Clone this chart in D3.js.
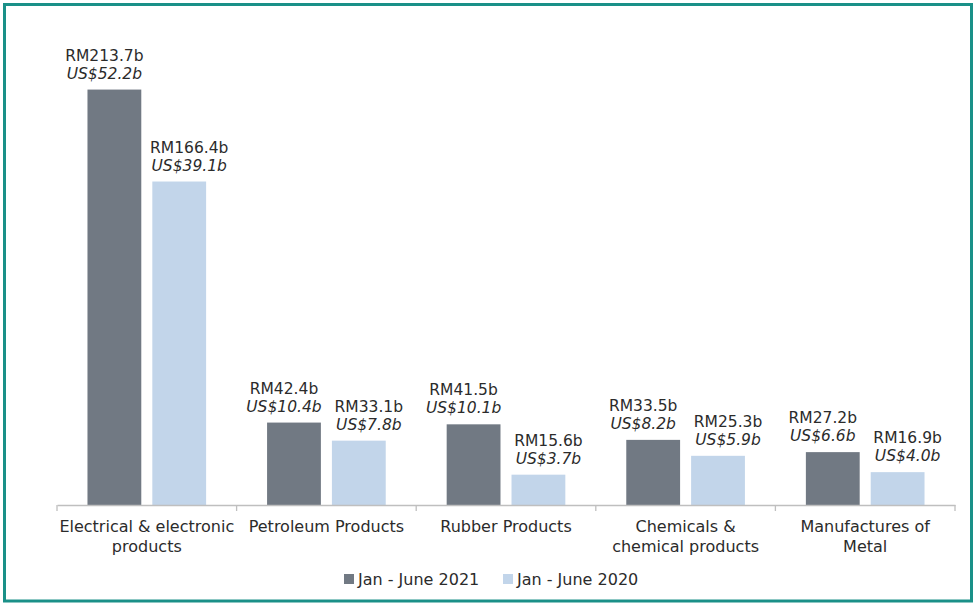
<!DOCTYPE html>
<html>
<head>
<meta charset="utf-8">
<script src="https://cdn.jsdelivr.net/npm/d3@7"></script>
<style>
  body { margin: 0; background: #fff; }
  text { font-family: "DejaVu Sans", sans-serif; fill: #2b2b2b; font-size: 16px; }
</style>
</head>
<body>
<script>
// categories and values (RM billions, with US$ equivalents)
var categories = [
  ["Electrical & electronic", "products"],
  ["Petroleum Products"],
  ["Rubber Products"],
  ["Chemicals &", "chemical products"],
  ["Manufactures of", "Metal"]
];
var series = ["Jan - June 2021", "Jan - June 2020"];
var rm2021 = [213.7, 42.4, 41.5, 33.5, 27.2];
var rm2020 = [166.4, 33.1, 15.6, 25.3, 16.9];
var us2021 = ["US$52.2b", "US$10.4b", "US$10.1b", "US$8.2b", "US$6.6b"];
var us2020 = ["US$39.1b", "US$7.8b", "US$3.7b", "US$5.9b", "US$4.0b"];
var colors = ["#717983", "#c2d5ea"];

var width = 978, height = 603;
var margin = {top: 19, right: 23, bottom: 98, left: 57};
var labelShift = [-10, 10]; // labels pushed apart, as in the original

var svg = d3.select("body").append("svg")
    .attr("width", width)
    .attr("height", height);

// teal frame
svg.append("rect")
    .attr("x", 4.5).attr("y", 4.5)
    .attr("width", 967).attr("height", 596.5)
    .attr("fill", "none")
    .attr("stroke", "#1a9088")
    .attr("stroke-width", 3);

var x0 = d3.scaleBand()
    .domain(d3.range(categories.length))
    .range([margin.left, width - margin.right])
    .paddingInner(0).paddingOuter(0);

var x1 = d3.scaleBand()
    .domain(series)
    .range([0, x0.bandwidth()])
    .paddingInner(0.17)
    .paddingOuter(0.47);

var y = d3.scaleLinear()
    .domain([0, 250])
    .range([height - margin.bottom, margin.top]);

var data = [];
for (let i = 0; i < categories.length; i++) {
    data.push({i: i, k: 0, s: series[0], v: rm2021[i], us: us2021[i], c: colors[0]});
    data.push({i: i, k: 1, s: series[1], v: rm2020[i], us: us2020[i], c: colors[1]});
}

svg.selectAll("rect.bar")
    .data(data)
    .enter()
    .append("rect")
    .attr("class", "bar")
    .attr("x", function (d) { return x0(d.i) + x1(d.s); })
    .attr("y", function (d) { return y(d.v); })
    .attr("width", x1.bandwidth())
    .attr("height", function (d) { return y(0) - y(d.v); })
    .attr("fill", function (d) { return d.c; });

// value labels
var labels = svg.selectAll("g.lab")
    .data(data)
    .enter()
    .append("g")
    .attr("transform", function (d) {
        var cx = x0(d.i) + x1(d.s) + x1.bandwidth() / 2 + labelShift[d.k];
        return "translate(" + cx + "," + y(d.v) + ")";
    });

labels.append("text")
    .attr("text-anchor", "middle")
    .attr("y", -29)
    .style("font-size", "15.5px")
    .text(function (d) { return "RM" + d.v.toFixed(1) + "b"; });

labels.append("text")
    .attr("text-anchor", "middle")
    .attr("y", -11)
    .style("font-size", "15.5px")
    .style("font-style", "italic")
    .text(function (d) { return d.us; });

// x axis
var axis = svg.append("g")
    .attr("transform", "translate(0," + y(0) + ")")
    .call(d3.axisBottom(x0).tickValues([]).tickSizeOuter(0));
axis.select(".domain").attr("stroke", "#bfbfbf").attr("stroke-width", 1.3);

var bounds = d3.range(categories.length + 1).map(function (k) {
    return margin.left + k * x0.step();
});
axis.selectAll("line.tk")
    .data(bounds)
    .enter()
    .append("line")
    .attr("class", "tk")
    .attr("x1", function (d) { return d; })
    .attr("x2", function (d) { return d; })
    .attr("y1", 0).attr("y2", 6)
    .attr("stroke", "#bfbfbf")
    .attr("stroke-width", 1.3);

var cat = svg.selectAll("text.cat")
    .data(categories)
    .enter()
    .append("text")
    .attr("class", "cat")
    .attr("text-anchor", "middle")
    .attr("x", function (d, i) { return x0(i) + x0.bandwidth() / 2; })
    .attr("y", y(0) + 27);

cat.selectAll("tspan")
    .data(function (d) { return d; })
    .enter()
    .append("tspan")
    .attr("x", function () { return this.parentNode.getAttribute("x"); })
    .attr("dy", function (d, j) { return j === 0 ? 0 : 20; })
    .text(function (d) { return d; });

// legend
var legendX = [344, 503];
var legend = svg.selectAll("g.legend")
    .data(series)
    .enter()
    .append("g")
    .attr("transform", function (d, i) { return "translate(" + legendX[i] + ",579)"; });

legend.append("rect")
    .attr("x", 0).attr("y", -5)
    .attr("width", 10).attr("height", 10)
    .attr("fill", function (d, i) { return colors[i]; });

legend.append("text")
    .attr("x", 14)
    .attr("y", 6)
    .text(function (d) { return d; });
</script>
</body>
</html>
